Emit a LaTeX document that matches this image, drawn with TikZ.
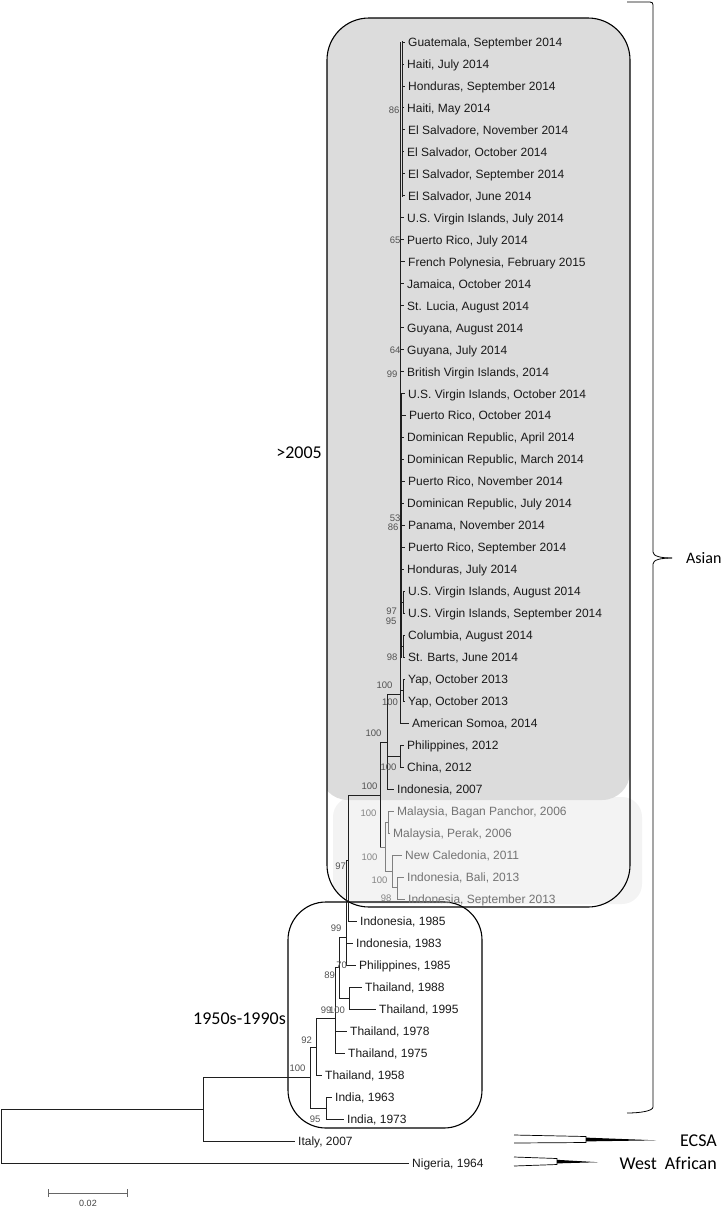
\documentclass[tikz,border=0pt]{standalone}
\usepackage{fontspec}
\setmainfont{Liberation Sans}
\newfontfamily\grpfont{Carlito}
\definecolor{darkfill}{RGB}{220,220,220}
\definecolor{lightfill}{RGB}{243,243,243}
\begin{document}
\begin{tikzpicture}[x=1pt,y=-1pt,
 br/.style={line width=0.9pt, draw=black!88, line cap=rect},
 brg/.style={line width=0.9pt, draw=black!50, line cap=rect},
 lf/.style={anchor=west, inner xsep=3.5pt, inner ysep=0pt, text height=8.6pt, text depth=0pt, font=\fontsize{12}{12}\selectfont, text=black!90},
 lfg/.style={lf, text=black!55},
 bs/.style={anchor=east, inner xsep=0.3pt, inner ysep=0pt, text height=6.8pt, text depth=0pt, font=\fontsize{9.5}{9.5}\selectfont, text=black!68},
 bsg/.style={bs, text=black!48},
 grp/.style={font=\grpfont\fontsize{18}{18}\selectfont, inner sep=0pt, text=black},
 boxline/.style={draw=black, line width=1.1pt},
]
\useasboundingbox (0,0) rectangle (725,1208);

% ---------- shaded regions
\begin{scope}
 \clip[rounded corners=42pt] (327,18) rectangle (720,907);
 \fill[lightfill, rounded corners=20pt] (333,797) rectangle (642,904);
\end{scope}
\begin{scope}
 \clip[rounded corners=42pt] (327,18) rectangle (630,907);
 \fill[darkfill, rounded corners=28pt] (320,10) rectangle (630,800);
\end{scope}
\draw[boxline, rounded corners=42pt] (327,18) rectangle (630,907);
\draw[boxline, rounded corners=38pt] (288,902) rectangle (482,1128);

% ---------- leaves
\node[lf] (L0) at (404.5,42.0) {Guatemala, September 2014};
\node[lf] (L1) at (403.5,64.0) {Haiti, July 2014};
\node[lf] (L2) at (404.5,86.0) {Honduras, September 2014};
\node[lf] (L3) at (403.5,107.9) {Haiti, May 2014};
\node[lf] (L4) at (404.5,129.9) {El Salvadore, November 2014};
\node[lf] (L5) at (403.5,151.9) {El Salvador, October 2014};
\node[lf] (L6) at (404.5,173.9) {El Salvador, September 2014};
\node[lf] (L7) at (404.5,195.9) {El Salvador, June 2014};
\node[lf] (L8) at (403.5,217.8) {U.S. Virgin Islands, July 2014};
\node[lf] (L9) at (403.5,239.8) {Puerto Rico, July 2014};
\node[lf] (L10) at (404.5,261.8) {French Polynesia, February 2015};
\node[lf] (L11) at (403.5,283.8) {Jamaica, October 2014};
\node[lf] (L12) at (403.5,305.8) {St. Lucia, August 2014};
\node[lf] (L13) at (403.5,327.7) {Guyana, August 2014};
\node[lf] (L14) at (403.5,349.7) {Guyana, July 2014};
\node[lf] (L15) at (403.5,371.7) {British Virgin Islands, 2014};
\node[lf] (L16) at (404.5,393.7) {U.S. Virgin Islands, October 2014};
\node[lf] (L17) at (405.5,415.6) {Puerto Rico, October 2014};
\node[lf] (L18) at (403.5,437.6) {Dominican Republic, April 2014};
\node[lf] (L19) at (403.5,459.6) {Dominican Republic, March 2014};
\node[lf] (L20) at (404.5,481.6) {Puerto Rico, November 2014};
\node[lf] (L21) at (403.5,503.6) {Dominican Republic, July 2014};
\node[lf] (L22) at (404.5,525.5) {Panama, November 2014};
\node[lf] (L23) at (404.5,547.5) {Puerto Rico, September 2014};
\node[lf] (L24) at (403.5,569.5) {Honduras, July 2014};
\node[lf] (L25) at (404.5,591.5) {U.S. Virgin Islands, August 2014};
\node[lf] (L26) at (404.5,613.5) {U.S. Virgin Islands, September 2014};
\node[lf] (L27) at (404.5,635.4) {Columbia, August 2014};
\node[lf] (L28) at (404.5,657.4) {St. Barts, June 2014};
\node[lf] (L29) at (404.5,679.4) {Yap, October 2013};
\node[lf] (L30) at (404.5,701.4) {Yap, October 2013};
\node[lf] (L31) at (408.5,723.4) {American Somoa, 2014};
\node[lf] (L32) at (403.5,745.4) {Philippines, 2012};
\node[lf] (L33) at (403.5,767.3) {China, 2012};
\node[lf] (L34) at (393.5,789.3) {Indonesia, 2007};
\node[lfg] (L35) at (393.5,811.3) {Malaysia, Bagan Panchor, 2006};
\node[lfg] (L36) at (389.5,833.3) {Malaysia, Perak, 2006};
\node[lfg] (L37) at (401.5,855.3) {New Caledonia, 2011};
\node[lfg] (L38) at (403.5,877.2) {Indonesia, Bali, 2013};
\node[lfg] (L39) at (404.5,899.2) {Indonesia, September 2013};
\node[lf] (L40) at (356.5,921.2) {Indonesia, 1985};
\node[lf] (L41) at (352.5,943.2) {Indonesia, 1983};
\node[lf] (L42) at (355.5,965.2) {Philippines, 1985};
\node[lf] (L43) at (361.5,987.1) {Thailand, 1988};
\node[lf] (L44) at (375.5,1009.1) {Thailand, 1995};
\node[lf] (L45) at (346.5,1031.1) {Thailand, 1978};
\node[lf] (L46) at (344.5,1053.1) {Thailand, 1975};
\node[lf] (L47) at (321.5,1075.1) {Thailand, 1958};
\node[lf] (L48) at (331.5,1097.0) {India, 1963};
\node[lf] (L49) at (343.5,1119.0) {India, 1973};
\node[lf] (L50) at (294.5,1141.0) {Italy, 2007};
\node[lf] (L51) at (408.5,1163.0) {Nigeria, 1964};

% ---------- internal nodes (x, joining height)
\coordinate (vM) at (400,0);
\coordinate (v1) at (402.5,0);
\coordinate (v4) at (401.5,0);
\coordinate (v5) at (403.5,602.5);
\coordinate (v6) at (403,646.4);
\coordinate (nYap) at (403.5,690.4);
\coordinate (n398) at (400,694);
\coordinate (nPC) at (400.5,756);
\coordinate (n387) at (387,742);
\coordinate (n385) at (385,847);
\coordinate (nMal) at (388,822);
\coordinate (nNC) at (392,871);
\coordinate (nBali) at (397,887);
\coordinate (n100c) at (380,795);
\coordinate (n97) at (348,860);
\coordinate (n99a) at (346,937);
\coordinate (n89) at (339,967);
\coordinate (n100t) at (349,998);
\coordinate (n99b) at (335,1018);
\coordinate (n92) at (316,1047);
\coordinate (nInd) at (326,1108);
\coordinate (nB) at (310,1077);
\coordinate (nA) at (203,1109);
\coordinate (nR) at (1,1136);

% ---------- Caribbean / Pacific comb
\draw[br] (vM |- L0.west) -- (vM |- L31.west);
\draw[br, line width=1.3pt] (v1 |- L0.west) -- (v1 |- L7.west);
\draw[br, line width=1.1pt] (v4 |- L16.west) -- (v4 |- L28.west);
\foreach \k in {0,...,7}{\draw[br] (v1 |- L\k.west) -- (L\k.west);}
\foreach \k in {8,...,24}{\draw[br] (vM |- L\k.west) -- (L\k.west);}
\draw[br] (v5 |- L25.west) -- (v5 |- L26.west);
\draw[br] (v5 |- L25.west) -- (L25.west);
\draw[br] (v5 |- L26.west) -- (L26.west);
\draw[br] (vM |- v5) -- (v5);
\draw[br] (v6 |- L27.west) -- (v6 |- L28.west);
\draw[br] (v6 |- L27.west) -- (L27.west);
\draw[br] (v6 |- L28.west) -- (L28.west);
\draw[br] (vM |- v6) -- (v6);
\draw[br] (nYap |- L29.west) -- (nYap |- L30.west);
\draw[br] (nYap |- L29.west) -- (L29.west);
\draw[br] (nYap |- L30.west) -- (L30.west);
\draw[br] (vM |- nYap) -- (nYap);
\draw[br] (vM |- L31.west) -- (L31.west);
% Philippines / China
\draw[br] (nPC |- L32.west) -- (nPC |- L33.west);
\draw[br] (nPC |- L32.west) -- (L32.west);
\draw[br] (nPC |- L33.west) -- (L33.west);
% node 387
\draw[br] (n387 |- n398) -- (n387 |- L34.west);
\draw[br] (n387 |- n398) -- (n398);
\draw[br] (n387 |- nPC) -- (nPC);
\draw[br] (n387 |- L34.west) -- (L34.west);
% node 100c
\draw[br] (n100c |- n387) -- (n100c |- n385);
\draw[br] (n100c |- n387) -- (n387);
\draw[brg] (n100c |- n385) -- (n385);
% Malaysian / New Caledonia group
\draw[brg] (n385 |- nMal) -- (n385 |- nNC);
\draw[brg] (n385 |- nMal) -- (nMal);
\draw[brg] (n385 |- nNC) -- (nNC);
\draw[brg] (nMal |- L35.west) -- (nMal |- L36.west);
\draw[brg] (nMal |- L35.west) -- (L35.west);
\draw[brg] (nMal |- L36.west) -- (L36.west);
\draw[brg] (nNC |- L37.west) -- (nNC |- nBali);
\draw[brg] (nNC |- L37.west) -- (L37.west);
\draw[brg] (nNC |- nBali) -- (nBali);
\draw[brg] (nBali |- L38.west) -- (nBali |- L39.west);
\draw[brg] (nBali |- L38.west) -- (L38.west);
\draw[brg] (nBali |- L39.west) -- (L39.west);
% older Asian lineages
\draw[br] (n97 |- n100c) -- (n97 |- L40.west);
\draw[br] (n97 |- n100c) -- (n100c);
\draw[br] (n97 |- L40.west) -- (L40.west);
\draw[br] (n99a |- n97) -- (n99a |- L42.west);
\draw[br] (n99a |- n97) -- (n97);
\draw[br] (n99a |- L41.west) -- (L41.west);
\draw[br] (n99a |- L42.west) -- (L42.west);
\draw[br] (n89 |- n99a) -- (n89 |- n100t);
\draw[br] (n89 |- n99a) -- (n99a);
\draw[br] (n89 |- n100t) -- (n100t);
\draw[br] (n100t |- L43.west) -- (n100t |- L44.west);
\draw[br] (n100t |- L43.west) -- (L43.west);
\draw[br] (n100t |- L44.west) -- (L44.west);
\draw[br] (n99b |- n89) -- (n99b |- L46.west);
\draw[br] (n99b |- n89) -- (n89);
\draw[br] (n99b |- L45.west) -- (L45.west);
\draw[br] (n99b |- L46.west) -- (L46.west);
\draw[br] (n92 |- n99b) -- (n92 |- L47.west);
\draw[br] (n92 |- n99b) -- (n99b);
\draw[br] (n92 |- L47.west) -- (L47.west);
\draw[br] (nInd |- L48.west) -- (nInd |- L49.west);
\draw[br] (nInd |- L48.west) -- (L48.west);
\draw[br] (nInd |- L49.west) -- (L49.west);
\draw[br] (nB |- n92) -- (nB |- nInd);
\draw[br] (nB |- n92) -- (n92);
\draw[br] (nB |- nInd) -- (nInd);
\draw[br] (nA |- nB) -- (nA |- L50.west);
\draw[br] (nA |- nB) -- (nB);
\draw[br] (nA |- L50.west) -- (L50.west);
\draw[br] (nR |- nA) -- (nR |- L51.west);
\draw[br] (nR |- nA) -- (nA);
\draw[br] (nR |- L51.west) -- (L51.west);

% ---------- bootstrap values
\node[bs] (b1) at (400,110) {86};
\node[bs] (b2) at (401,240) {65};
\node[bs] (b3) at (401,350) {64};
\node[bs] (b4) at (398,374) {99};
\node[bs] (b5) at (401,518) {53};
\node[bs] (b6) at (399,527) {86};
\node[bs] (b7) at (397.5,611) {97};
\node[bs] (b8) at (397,621) {95};
\node[bs] (b9) at (398,657) {98};
\node[bs] (b10) at (393,685) {100};
\node[bs] (b11) at (398.5,702) {100};
\node[bs] (b12) at (382,733) {100};
\node[bs] (b13) at (397,767) {100};
\node[bs] (b14) at (378,786) {100};
\node[bsg] (b15) at (377,813) {100};
\node[bsg] (b16) at (378,857) {100};
\node[bsg] (b17) at (388,880) {100};
\node[bsg] (b18) at (392,898) {98};
\node[bs] (b19) at (346.5,866) {97};
\node[bs] (b20) at (342,928) {99};
\node[bs] (b21) at (347.5,965) {70};
\node[bs] (b22) at (335.5,975) {89};
\node[bs] (b23) at (332,1010) {99};
\node[bs] (b24) at (345.5,1010) {100};
\node[bs] (b25) at (312.5,1040) {92};
\node[bs] (b26) at (306,1068) {100};
\node[bs] (b27) at (321,1119) {95};

% ---------- group labels
\node[grp, anchor=east] (g2005) at (322,453) {>2005};
\node[grp, anchor=east] (g1950) at (286,1019) {1950s-1990s};
\node[grp, font=\grpfont\fontsize{16}{16}\selectfont, anchor=west] (gAsian) at (686,558) {Asian};
\node[grp, anchor=east] (gECSA) at (717,1141) {ECSA};
\node[grp, anchor=east] (gWA) at (717,1163) {West~ African};

% Asian brace
\coordinate (brT) at (627,2);
\coordinate (brB) at (627,1113);
\coordinate (brM) at (672,558);
\draw[line width=0.8pt] (brT) -- (650,2) .. controls (652,2) and (653,3) .. (653,5) -- (653,552) .. controls (653,556) and (660,558) .. (brM);
\draw[line width=0.8pt] (brM) .. controls (660,558) and (653,560) .. (653,564) -- (653,1107) .. controls (653,1111) and (640,1113) .. (brB);

% collapsed clades
\draw[line width=0.7pt] (514,1135) -- (586,1136.5) -- (586,1142.5) -- (514,1143);
\fill (586,1137.6) -- (656,1140.3) -- (586,1141.4) -- cycle;
\draw[line width=0.7pt] (514,1157) -- (557,1158.5) -- (557,1164.5) -- (514,1166);
\fill (557,1159.8) -- (598,1162.2) -- (557,1163.4) -- cycle;

% scale bar
\coordinate (sbL) at (48,1193);
\coordinate (sbR) at (127,1193);
\draw[black!60, line width=0.9pt] (sbL) -- (sbR);
\draw[black!60, line width=0.9pt] ([yshift=-4pt]sbL) -- ([yshift=4pt]sbL);
\draw[black!60, line width=0.9pt] ([yshift=-4pt]sbR) -- ([yshift=4pt]sbR);
\node[font=\fontsize{9}{9}\selectfont, text=black!75, inner sep=0pt] (sbT) at (88,1203) {0.02};
\end{tikzpicture}
\end{document}
